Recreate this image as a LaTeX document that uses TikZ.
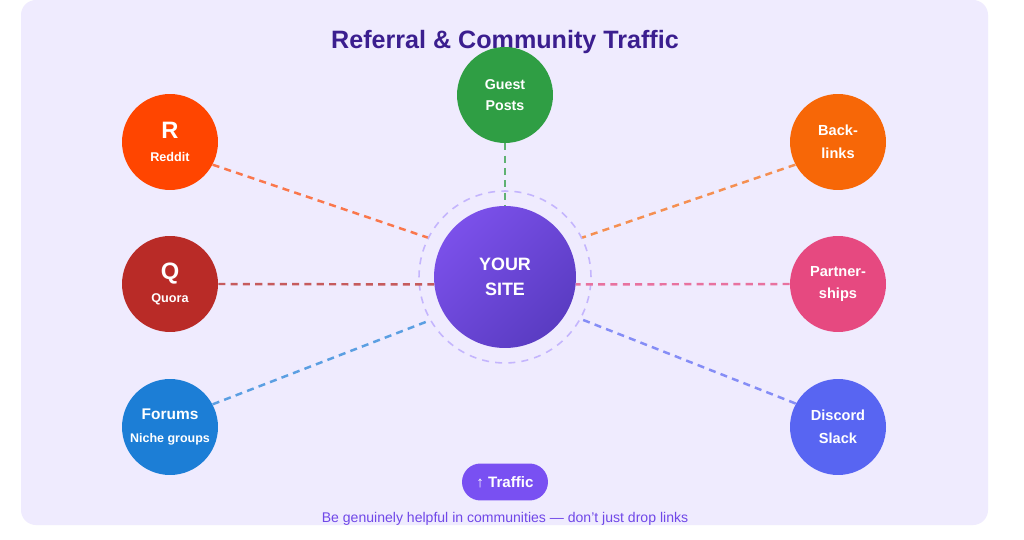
\documentclass[tikz,border=0pt]{standalone}
\usepackage{fontspec}
\setmainfont{Liberation Sans}
\usetikzlibrary{positioning,calc}
\definecolor{panelfill}{HTML}{EFEBFE}
\definecolor{titleink}{HTML}{3B1E8F}
\definecolor{hubtop}{HTML}{7B50EA}
\definecolor{hubbot}{HTML}{5A3CC2}
\definecolor{ringline}{HTML}{C4B5FD}
\definecolor{reddit}{HTML}{FF4500}
\definecolor{quora}{HTML}{B92B27}
\definecolor{forums}{HTML}{1C7ED6}
\definecolor{guest}{HTML}{2F9E44}
\definecolor{backl}{HTML}{F76707}
\definecolor{partner}{HTML}{E64980}
\definecolor{discord}{HTML}{5865F2}
\definecolor{pillfill}{HTML}{7950F2}
\definecolor{noteink}{HTML}{7048E8}
\tikzset{
  title/.style={font=\bfseries\fontsize{14.3}{17}\selectfont, text=titleink},
  bubble/.style={circle, minimum size=1.92cm, inner sep=0pt, text=white,
                 align=center, font=\bfseries\fontsize{8.3}{13}\selectfont},
  hub/.style={circle, minimum size=2.84cm, inner sep=0pt, top color=hubtop,
              bottom color=hubbot, shading angle=45, text=white, align=center,
              font=\bfseries\fontsize{10.2}{14}\selectfont},
  ring/.style={circle, minimum size=3.44cm, inner sep=0pt, draw=ringline,
               line width=0.9pt, dash pattern=on 4pt off 3.5pt},
  link/.style={line width=1.4pt, dash pattern=on 4pt off 3pt},
  pill/.style={fill=pillfill, text=white, rounded corners=0.37cm,
               minimum width=1.72cm, minimum height=0.74cm, inner sep=0pt,
               font=\bfseries\fontsize{8.6}{10}\selectfont},
  note/.style={text=noteink, font=\fontsize{8}{10}\selectfont},
}
\begin{document}
\begin{tikzpicture}[x=0.02cm, y=-0.02cm]

% ---- canvas and lavender panel -------------------------------------------
\useasboundingbox (0,0) rectangle (1024,540);
\fill[white] (0,0) rectangle (1024,540);
\fill[panelfill, rounded corners=0.3cm] (21,0) rectangle (988,525);

\node[title, anchor=base] (title) at (505,49) {Referral \& Community Traffic};

% ---- the site in the middle ----------------------------------------------
\node[ring] (ring) at (505,277) {};
\node[hub] (hub) at (505,277) {YOUR\\SITE};

% ---- sources, left column ------------------------------------------------
\node[bubble, fill=reddit] (reddit) at (170,142)
  {\fontsize{13.5}{13}\selectfont R\\\fontsize{7.2}{13}\selectfont Reddit};
\node[bubble, fill=quora] (quora) at (170,284)
  {\fontsize{13.5}{13}\selectfont Q\\\fontsize{7.2}{13}\selectfont Quora};
\node[bubble, fill=forums] (forums) at (170,427)
  {\fontsize{8.8}{13}\selectfont Forums\\\fontsize{7.1}{13}\selectfont Niche groups};

% ---- sources, top and right column ---------------------------------------
\node[bubble, fill=guest, font=\bfseries\fontsize{8.1}{12}\selectfont] (guest) at (505,95)
  {Guest\\Posts};
\node[bubble, fill=backl] (backl) at (838,142) {Back-\\links};
\node[bubble, fill=partner] (partner) at (838,284) {Partner-\\ships};
\node[bubble, fill=discord] (discord) at (838,427) {Discord\\Slack};

% ---- dashed links into the site ------------------------------------------
\draw[link, draw=reddit!70!panelfill] (reddit.-28) -- (ring.153);
\draw[link, draw=quora!75!panelfill] (quora.east) -- (hub.186);
\draw[link, draw=forums!70!panelfill] (forums.28) -- (ring.210);
\draw[link, draw=guest!75!panelfill] (guest.south) -- (hub.north);
\draw[link, draw=backl!70!panelfill] (backl.208) -- (ring.27);
\draw[link, draw=partner!75!panelfill] (partner.west) -- (hub.-6);
\draw[link, draw=discord!70!panelfill] (discord.151) -- (ring.-29);

% ---- result and advice ---------------------------------------------------
\node[pill] (boost) at (505,482) {{\mdseries ↑} Traffic};
\node[note, anchor=base] (tip) at (505,522)
  {Be genuinely helpful in communities — don't just drop links};
\end{tikzpicture}
\end{document}
